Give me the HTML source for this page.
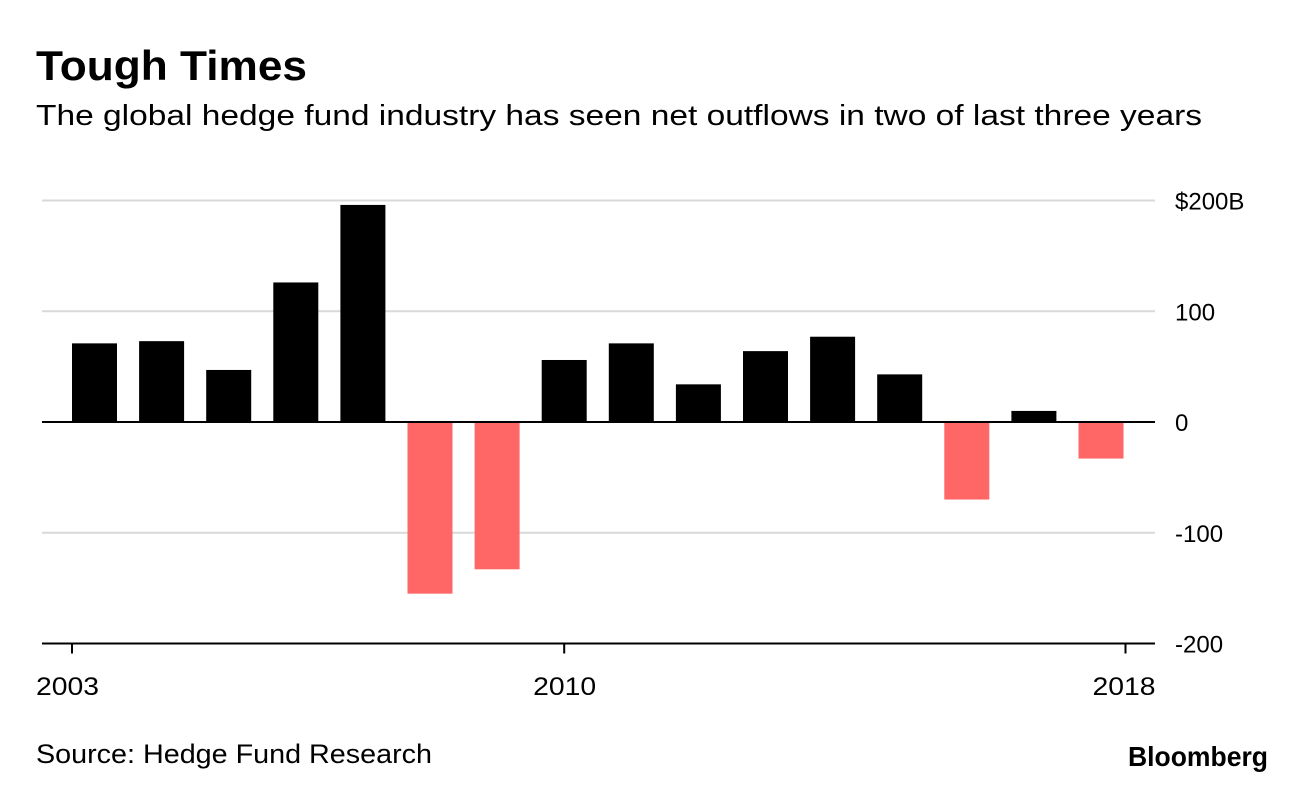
<!DOCTYPE html>
<html><head><meta charset="utf-8"><style>
body{margin:0;background:#fff;width:1296px;height:786px;overflow:hidden;font-family:"Liberation Sans",sans-serif}
</style></head><body>
<svg width="1296" height="786">
<text x="36" y="80" font-size="42" font-weight="bold" fill="#000" textLength="271" lengthAdjust="spacingAndGlyphs">Tough Times</text>
<text x="36" y="125" font-size="29" fill="#000" textLength="1166" lengthAdjust="spacingAndGlyphs">The global hedge fund industry has seen net outflows in two of last three years</text>
<g id="grid"></g><g id="bars"></g><g id="axes"></g>
<text x="36" y="763" font-size="27" fill="#000" textLength="396" lengthAdjust="spacingAndGlyphs">Source: Hedge Fund Research</text>
<text x="1128" y="766" font-size="28" font-weight="bold" textLength="140" lengthAdjust="spacingAndGlyphs" fill="#000">Bloomberg</text>
</svg>
<script>
const years=[2003,2004,2005,2006,2007,2008,2009,2010,2011,2012,2013,2014,2015,2016,2017,2018];
const flows=[71,73,47,126,196,-155,-133,56,71,34,64,77,43,-70,10,-33];
const yTicks=[200,100,0,-100,-200];
const yTickLabels=["$200B","100","0","-100","-200"];
const xTickYears=[2003,2010,2018];
const NS="http://www.w3.org/2000/svg";
const y=v=>422-v*1.1075;
const xc=yr=>94.5+(yr-2003)*67.1;
const bw=45;
function mk(tag,attrs,parent){const e=document.createElementNS(NS,tag);for(const k in attrs)e.setAttribute(k,attrs[k]);document.getElementById(parent).appendChild(e);return e;}
yTicks.forEach((t,i)=>{
 if(t!==-200&&t!==0){const l=mk('line',{x1:42,x2:1155,y1:y(t),y2:y(t),stroke:'#d9d9d9','stroke-width':2},'grid');
 
 }
 const tx=mk('text',{x:1175,y:y(t)+9,'font-size':24,fill:'#000'},'axes');
 tx.textContent=yTickLabels[i];
 
 
});
years.forEach((yr,i)=>{
 const v=flows[i];
 const r=mk('rect',{x:xc(yr)-bw/2,y:Math.min(y(v),y(0)),width:bw,height:Math.abs(y(v)-y(0)),fill:v<0?'#ff6666':'#000'},'bars');
 
 
});
const z=mk('line',{x1:42,x2:1155,y1:y(0),y2:y(0),stroke:'#000','stroke-width':2},'axes');


const b=mk('line',{x1:42,x2:1155,y1:y(-200),y2:y(-200),stroke:'#000','stroke-width':2},'axes');


xTickYears.forEach((yr,i)=>{
 const last=i===xTickYears.length-1;
 const x=i===0?xc(yr)-bw/2:(last?xc(yr)+bw/2+2:xc(yr));
 const t=mk('line',{x1:x,x2:x,y1:y(-200),y2:y(-200)+10,stroke:'#000','stroke-width':2},'axes');
 
 
 const lx=i===0?x-36:(last?x-33:x-31);
 const tx=mk('text',{x:lx,y:695,'font-size':25,fill:'#000',textLength:63,lengthAdjust:'spacingAndGlyphs'},'axes');
 tx.textContent=yr;
 
 
});
</script>
</body></html>
